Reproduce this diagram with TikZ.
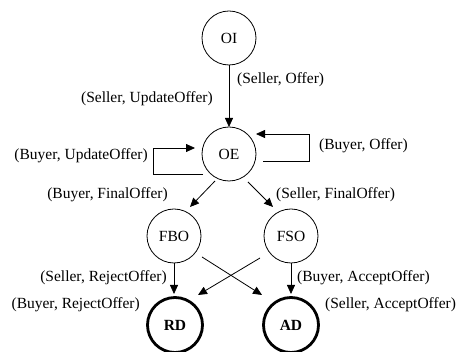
\documentclass[tikz,border=0pt]{standalone}
\usepackage{fontspec}
\setmainfont{Liberation Serif}
\usetikzlibrary{arrows.meta,calc}
\begin{document}
\begin{tikzpicture}[x=1pt,y=-1pt,
  every node/.style={font=\fontsize{15.5}{18}\selectfont},
  state/.style={circle,draw,line width=0.8pt,minimum size=54pt,inner sep=0pt,outer sep=0pt},
  final/.style={state,line width=2.8pt,minimum size=55pt},
  lbl/.style={inner sep=0pt},
  arr/.style={line width=0.8pt,-{Triangle[length=9pt,width=8pt]}}]
\useasboundingbox (0,0) rectangle (459,352);

% states
\node[state] (OI)  at (229,38)  {OI};
\node[state] (OE)  at (229,154) {OE};
\node[state] (FBO) at (174,236) {FBO};
\node[state] (FSO) at (291,236) {FSO};
\node[final] (RD)  at (175,325) {\textbf{RD}};
\node[final] (AD)  at (291,325) {\textbf{AD}};

% transitions
\draw[arr] (OI) -- (OE);
\draw[arr] ($(OE)+(34,7)$) -- ($(OE)+(80,7)$) -- ($(OE)+(80,-20)$) -- ($(OE)+(27,-20)$);
\draw[arr] ($(OE)+(-26,20)$) -- ($(OE)+(-76,20)$) -- ($(OE)+(-76,-6)$) -- ($(OE)+(-34,-6)$);
\draw[arr] ($(OE)+(-14,27)$) -- ($(FBO)+(16,-29)$);
\draw[arr] ($(OE)+(19,28)$) -- ($(FSO)+(-18,-29)$);
\draw[arr] ($(FBO)+(0,27)$) -- ($(RD)+(-1,-31)$);
\draw[arr] ($(FSO)+(0,27)$) -- ($(AD)+(0,-31)$);
\draw[arr] ($(FBO)+(28,21)$) -- ($(AD)+(-29,-30)$);
\draw[arr] ($(FSO)+(-31,22)$) -- ($(RD)+(23,-30)$);

% transition labels
\node[lbl,anchor=west] (l1)  at (237,80)  {(Seller, Offer)};
\node[lbl,anchor=east] (l2)  at (213,99)  {(Seller, UpdateOffer)};
\node[lbl,anchor=west] (l3)  at (319,146) {(Buyer, Offer)};
\node[lbl,anchor=east] (l4)  at (148,156) {(Buyer, UpdateOffer)};
\node[lbl,anchor=east] (l5)  at (168,195) {(Buyer, FinalOffer)};
\node[lbl,anchor=west] (l6)  at (276,195) {(Seller, FinalOffer)};
\node[lbl,anchor=east] (l7)  at (167,278) {(Seller, RejectOffer)};
\node[lbl,anchor=west] (l8)  at (297,278) {(Buyer, AcceptOffer)};
\node[lbl,anchor=east] (l9)  at (140,305) {(Buyer, RejectOffer)};
\node[lbl,anchor=west] (l10) at (325,305) {(Seller, AcceptOffer)};
\end{tikzpicture}
\end{document}
